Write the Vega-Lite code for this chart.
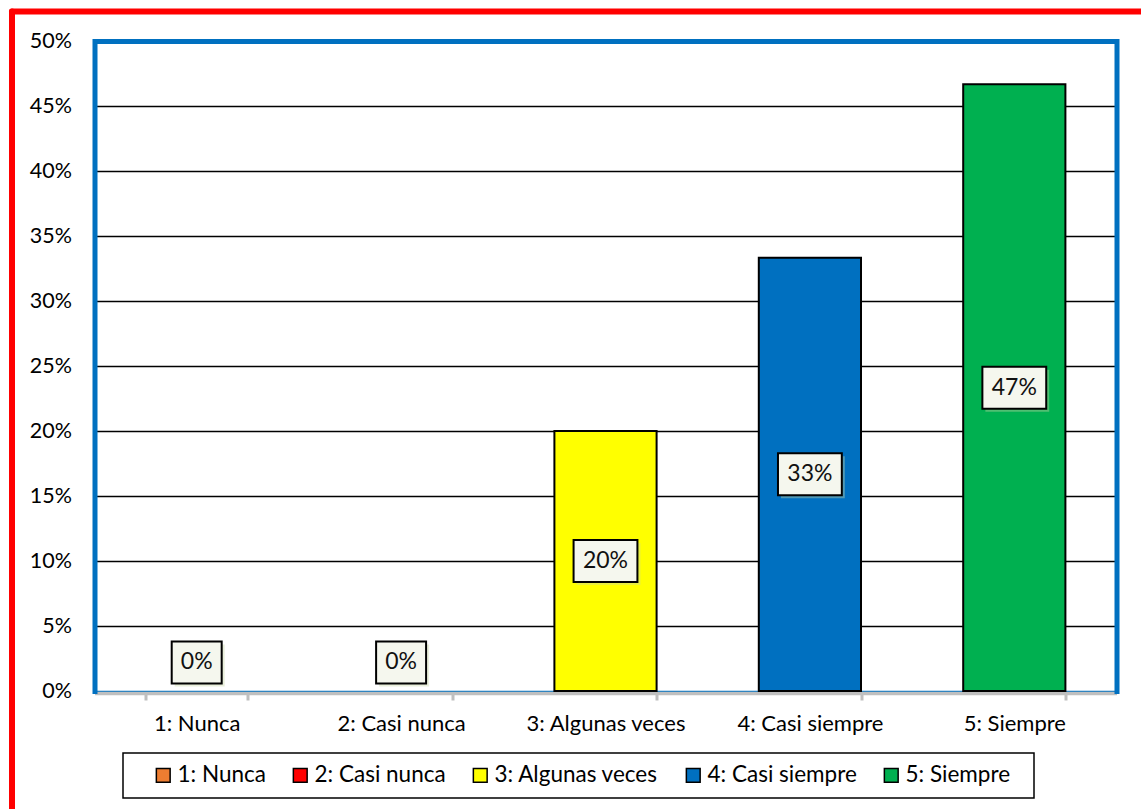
{
  "$schema": "https://vega.github.io/schema/vega-lite/v6.json",
  "width": 1129.5,
  "height": 798,
  "autosize": {"type": "none"},
  "padding": {"left": 11.5, "top": 11, "right": 0, "bottom": 0},
  "background": "white",
  "config": {
    "view": {"stroke": null},
    "font": "Lato",
    "legend": {"strokeColor": "black", "strokeWidth": 1.5, "padding": 11, "fillColor": "white", "symbolStrokeWidth": 1.5, "symbolStrokeColor": "black"},
    "axisX": {"orient": "bottom", "offset": -116, "title": null, "labelAngle": 0, "grid": false,
      "domainColor": "#bfbfbf", "domainWidth": 3.5, "tickColor": "#bfbfbf", "tickWidth": 3, "tickSize": 7, "tickBand": "extent",
      "labelFont": "Lato", "labelFontSize": 22, "labelColor": "black", "labelPadding": 13, "zindex": 1}
  },
  "data": {
    "values": [
      {"category": "1: Nunca", "value": 0},
      {"category": "2: Casi nunca", "value": 0},
      {"category": "3: Algunas veces", "value": 0.2},
      {"category": "4: Casi siempre", "value": 0.3333},
      {"category": "5: Siempre", "value": 0.4667}
    ]
  },
  "layer": [
    {
      "mark": {"type": "point", "opacity": 0},
      "encoding": {
        "x": {"field": "category", "type": "nominal", "sort": null,
          "axis": {"orient": "top", "offset": 0, "labels": false, "ticks": false, "grid": false, "title": null, "domainColor": "#ff0000", "domainWidth": 6, "domainCap": "round"}},
        "y": {"field": "value", "type": "quantitative",
          "axis": {"orient": "left", "labels": false, "ticks": false, "grid": false, "title": null, "domainColor": "#ff0000", "domainWidth": 6, "domainCap": "round"}}
      }
    },
    {
      "transform": [{"calculate": "datum.value == 0 ? 0.022 : datum.value / 2", "as": "labelPos"}],
      "resolve": {"axis": {"y": "independent"}},
      "layer": [
        {
          "mark": {"type": "bar", "stroke": "black", "strokeWidth": 2},
          "encoding": {
            "x": {"field": "category", "type": "nominal", "sort": null,
              "scale": {"range": [83, 1105], "paddingInner": 0.5, "paddingOuter": 0.25},
              "axis": {}},
            "y": {"field": "value", "type": "quantitative",
              "scale": {"domain": [0, 0.5], "range": [680, 30], "nice": false, "zero": true},
              "axis": {"orient": "left", "offset": -83, "title": null,
                "values": [0, 0.05, 0.1, 0.15, 0.2, 0.25, 0.3, 0.35, 0.4, 0.45, 0.5],
                "format": ".0%", "labelFont": "Lato", "labelFontSize": 21.5, "labelColor": "black", "labelPadding": 23,
                "ticks": false, "domainColor": "#0070c0", "domainWidth": 5, "domainCap": "square",
                "grid": true,
                "gridColor": {"condition": {"test": "datum.value <= 0.001 || datum.value >= 0.499", "value": "#0070c0"}, "value": "black"},
                "gridWidth": {"condition": {"test": "datum.value >= 0.499", "value": 5}, "value": 1.3},
                "zindex": 0}},
            "color": {"field": "category", "type": "nominal", "sort": null,
              "scale": {"domain": ["1: Nunca", "2: Casi nunca", "3: Algunas veces", "4: Casi siempre", "5: Siempre"],
                        "range": ["#ed7d31", "#ff0000", "#ffff00", "#0070c0", "#00b050"]},
              "legend": {"orient": "none", "legendX": 111.5, "legendY": 742, "direction": "horizontal",
                "title": " ", "titleOrient": "right", "titlePadding": 13, "titleFontSize": 1,
                "symbolType": "square", "symbolSize": 190, "symbolOffset": 18,
                "labelFont": "Lato", "labelFontSize": 22.5, "labelColor": "black", "labelOffset": 3, "labelLimit": 300,
                "columnPadding": 5}},
            "strokeOpacity": {"condition": {"test": "datum.value == 0", "value": 0}, "value": 1}
          }
        },
        {
          "mark": {"type": "point", "filled": true, "fill": "#c9d8a6", "opacity": 0.4, "strokeWidth": 0, "size": 1764, "xOffset": 3, "yOffset": 3},
          "encoding": {
            "x": {"field": "category", "type": "nominal", "sort": null, "axis": {}},
            "y": {"field": "labelPos", "type": "quantitative", "axis": null},
            "shape": {"condition": {"test": "datum.value == 0", "value": "M-1.19,-1L1.19,-1L1.19,1L-1.19,1Z"}, "value": "M-1.52,-1L1.52,-1L1.52,1L-1.52,1Z"}
          }
        },
        {
          "mark": {"type": "point", "filled": true, "fill": "#f5f7ee", "stroke": "black", "strokeWidth": 2, "opacity": 1, "size": 1764},
          "encoding": {
            "x": {"field": "category", "type": "nominal", "sort": null, "axis": {}},
            "y": {"field": "labelPos", "type": "quantitative",
              "axis": {"orient": "right", "offset": -24.5, "title": null, "labels": false, "ticks": false, "grid": false,
                "domainColor": "#0070c0", "domainWidth": 5, "domainCap": "square"}},
            "shape": {"condition": {"test": "datum.value == 0", "value": "M-1.19,-1L1.19,-1L1.19,1L-1.19,1Z"}, "value": "M-1.52,-1L1.52,-1L1.52,1L-1.52,1Z"}
          }
        },
        {
          "mark": {"type": "text", "font": "Lato", "fontSize": 23, "color": "#111111", "baseline": "middle"},
          "encoding": {
            "x": {"field": "category", "type": "nominal", "sort": null, "axis": {}},
            "y": {"field": "labelPos", "type": "quantitative", "axis": null},
            "text": {"field": "value", "type": "quantitative", "format": ".0%"}
          }
        }
      ]
    }
  ],
  "resolve": {"scale": {"x": "independent", "y": "independent"}}
}
